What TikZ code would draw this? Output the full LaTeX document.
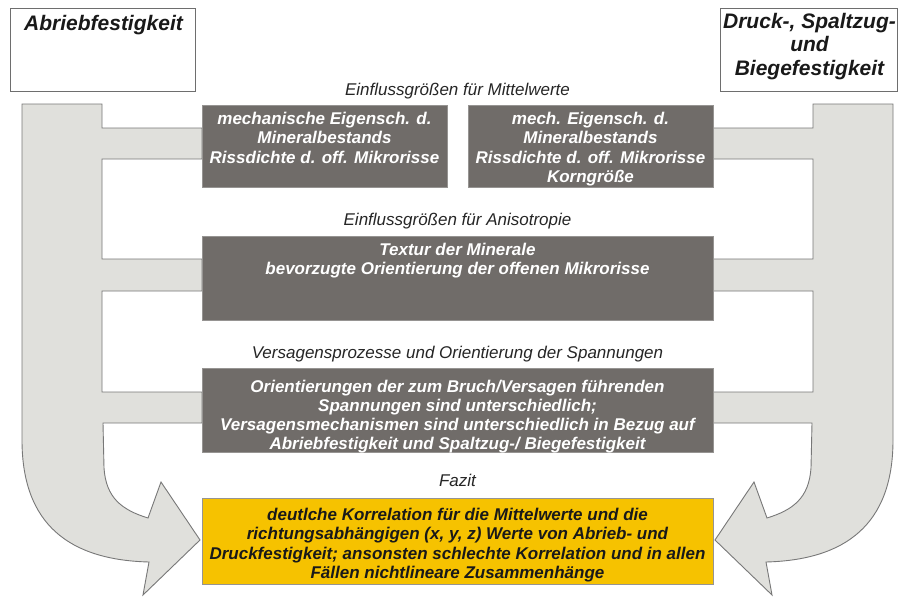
\documentclass[tikz,border=0pt]{standalone}
\usepackage{fontspec}
\setmainfont{Liberation Sans}
\definecolor{arrowgray}{RGB}{224,224,220}
\definecolor{arrowedge}{RGB}{120,120,120}
\definecolor{boxgray}{RGB}{112,108,105}
\definecolor{boxedge}{RGB}{150,148,146}
\definecolor{fazityellow}{RGB}{246,194,0}
\definecolor{titleedge}{RGB}{110,110,110}
\begin{document}
\begin{tikzpicture}[x=1pt,y=-1pt,
  arrowshape/.style={fill=arrowgray, draw=arrowedge, line width=0.9pt, line join=miter},
  darkbox/.style={fill=boxgray, draw=boxedge, line width=0.7pt},
  yellowbox/.style={fill=fazityellow, draw=boxedge, line width=0.7pt},
  titlebox/.style={fill=white, draw=titleedge, line width=0.9pt},
  boxtext/.style={text=white, font=\bfseries\itshape\fontsize{17}{19.5}\selectfont, align=center, anchor=north, inner sep=0pt},
  fazittext/.style={text=black!90, font=\bfseries\itshape\fontsize{17}{19.5}\selectfont, align=center, anchor=north, inner sep=0pt},
  headtext/.style={text=black!85, font=\itshape\fontsize{17}{20}\selectfont, anchor=base, inner sep=0pt},
  titletext/.style={text=black!90, font=\bfseries\itshape\fontsize{21}{23.5}\selectfont, align=center, anchor=north, inner sep=0pt}]
\useasboundingbox (0,0) rectangle (903,597);
\fill[white] (0,0) rectangle (903,597);

% title boxes
\draw[titlebox] (10,8) rectangle (195,91);
\node[titletext] (t1) at (103.5,14.7) {Abriebfestigkeit};
\draw[titlebox] (720,8) rectangle (897,91);
\node[titletext] (t2) at (809.5,12.7) {Druck-, Spaltzug-\\und\\Biegefestigkeit};

% left big arrow
\path[arrowshape] (22,104) -- (102,104) -- (102,128) -- (202,128) -- (202,159) -- (102,159)
  -- (102,259) -- (202,259) -- (202,291) -- (102,291) -- (102,392) -- (202,392) -- (202,423)
  -- (103,423) -- (104,468) .. controls (106,498) and (122,510) .. (148,518)
  -- (161,482) -- (200,540) -- (143,595) -- (149,562)
  .. controls (70,560) and (22,525) .. (22,440) -- cycle;
% right big arrow (mirror image)
\begin{scope}[xshift=915pt, xscale=-1]
\path[arrowshape] (22,104) -- (102,104) -- (102,128) -- (202,128) -- (202,159) -- (102,159)
  -- (102,259) -- (202,259) -- (202,291) -- (102,291) -- (102,392) -- (202,392) -- (202,423)
  -- (103,423) -- (104,468) .. controls (106,498) and (122,510) .. (148,518)
  -- (161,482) -- (200,540) -- (143,595) -- (149,562)
  .. controls (70,560) and (22,525) .. (22,440) -- cycle;
\end{scope}

% headings
\node[headtext] (h1) at (457.5,95) {Einflussgrößen für Mittelwerte};
\node[headtext] (h2) at (457.5,225) {Einflussgrößen für Anisotropie};
\node[headtext] (h3) at (457.5,358) {Versagensprozesse und Orientierung der Spannungen};
\node[headtext] (h4) at (457.5,486.5) {Fazit};

% boxes
\draw[darkbox] (202,105) rectangle (447,187);
\node[boxtext] (b1) at (324.5,111.6) {mechanische Eigensch. d.\\Mineralbestands\\Rissdichte d. off. Mikrorisse};
\draw[darkbox] (468,105) rectangle (713,187);
\node[boxtext] (b2) at (590.5,111.6) {mech. Eigensch. d.\\Mineralbestands\\Rissdichte d. off. Mikrorisse\\Korngröße};
\draw[darkbox] (202,236) rectangle (713,320);
\node[boxtext] (b3) at (457.5,242.6) {Textur der Minerale\\bevorzugte Orientierung der offenen Mikrorisse};
\draw[darkbox] (202,368) rectangle (713,452);
\node[boxtext, font=\bfseries\itshape\fontsize{17}{19}\selectfont] (b4) at (457.5,379.5) {Orientierungen der zum Bruch/Versagen führenden\\Spannungen sind unterschiedlich;\\Versagensmechanismen sind unterschiedlich in Bezug auf\\Abriebfestigkeit und Spaltzug-/ Biegefestigkeit};
\draw[yellowbox] (202,498) rectangle (713,584);
\node[fazittext] (b5) at (457.5,507.6) {deutlche Korrelation für die Mittelwerte und die\\richtungsabhängigen (x, y, z) Werte von Abrieb- und\\Druckfestigkeit; ansonsten schlechte Korrelation und in allen\\Fällen nichtlineare Zusammenhänge};
\end{tikzpicture}
\end{document}
